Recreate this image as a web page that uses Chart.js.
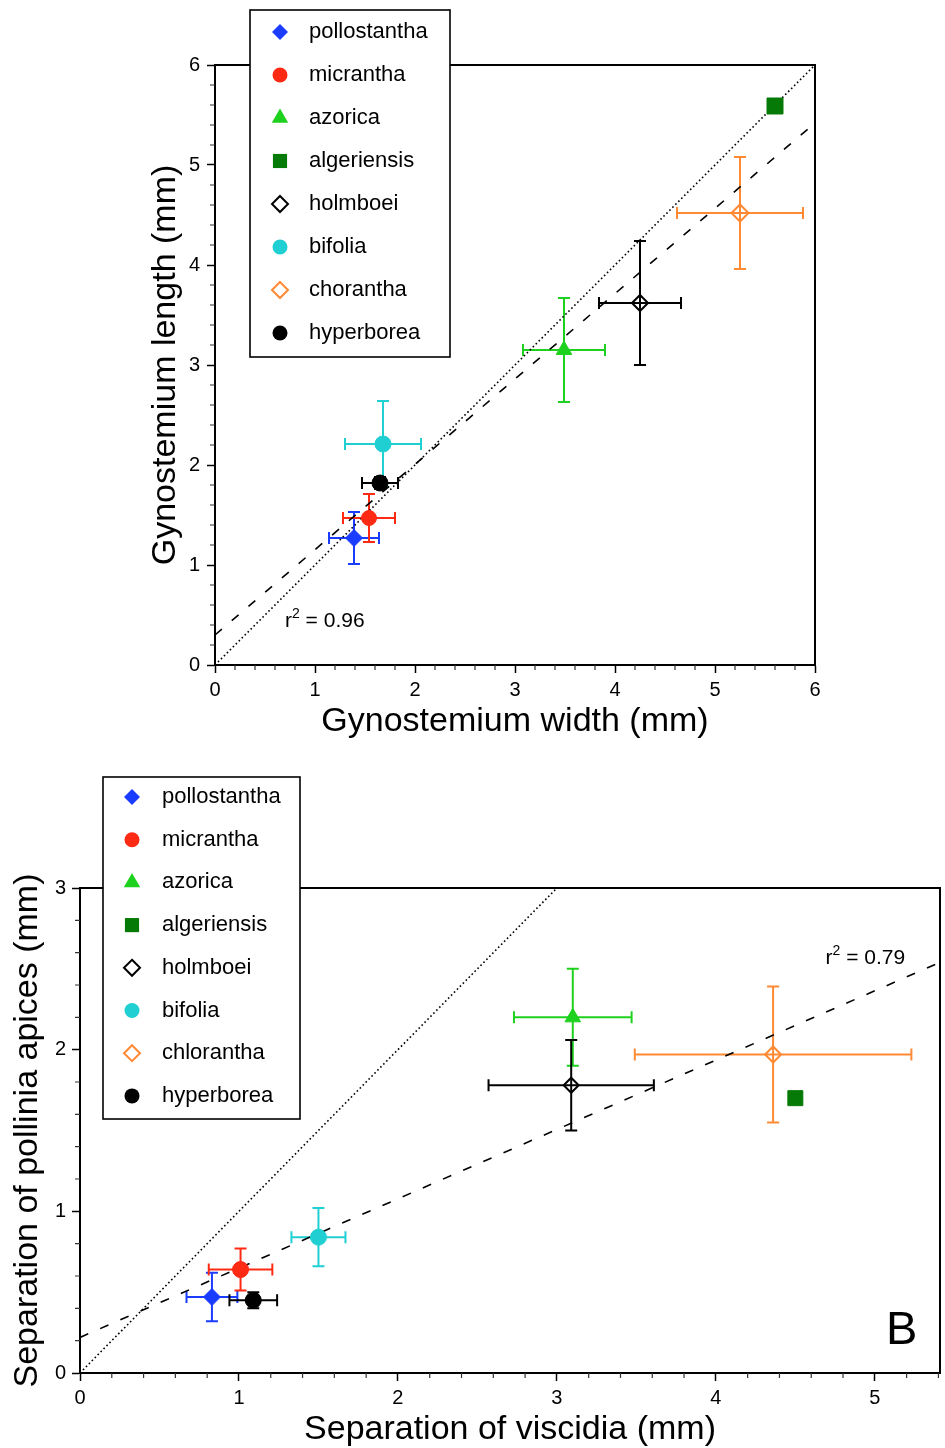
<!DOCTYPE html>
<html>
<head>
<meta charset="UTF-8">
<title>Gynostemium and pollinia measurements</title>
<script src="https://cdn.jsdelivr.net/npm/chart.js"></script>
<style>
  body { margin: 0; background: #fff; }
  #wrap { position: relative; width: 945px; height: 1448px; }
  #topBox { position: absolute; left: 0; top: 0; }
  #botBox { position: absolute; left: 0; top: 745px; }
</style>
</head>
<body>
<div id="wrap">
  <div id="topBox"><canvas id="chartA" width="945" height="745"></canvas></div>
  <div id="botBox"><canvas id="chartB" width="945" height="703"></canvas></div>
</div>
<script>
// species names (legend order)
const speciesA = ['pollostantha', 'micrantha', 'azorica', 'algeriensis', 'holmboei', 'bifolia', 'chorantha', 'hyperborea'];
const speciesB = ['pollostantha', 'micrantha', 'azorica', 'algeriensis', 'holmboei', 'bifolia', 'chlorantha', 'hyperborea'];

// panel A : gynostemium width / length (mm), +- error
const widthA     = [1.39, 1.54, 3.49, 5.60, 4.25, 1.68, 5.25, 1.65];
const lengthA    = [1.27, 1.47, 3.15, 5.59, 3.62, 2.21, 4.52, 1.82];
const widthErrA  = [0.25, 0.26, 0.41, 0,    0.41, 0.38, 0.63, 0.18];
const lengthErrA = [0.26, 0.24, 0.52, 0,    0.62, 0.43, 0.56, 0.06];
const oneToOneA  = { x: [0, 6], y: [0, 6] };
const fitA       = { x: [0, 6], y: [0.30, 5.42] };
const ticksA     = [0, 1, 2, 3, 4, 5, 6];

// panel B : separation of viscidia / pollinia apices (mm), +- error
const viscB      = [0.83, 1.01, 3.10, 4.50, 3.09, 1.50, 4.36, 1.09];
const apicesB    = [0.47, 0.64, 2.20, 1.70, 1.78, 0.84, 1.97, 0.45];
const viscErrB   = [0.16, 0.20, 0.37, 0,    0.52, 0.17, 0.87, 0.15];
const apicesErrB = [0.15, 0.13, 0.30, 0,    0.28, 0.18, 0.42, 0.05];
const oneToOneB  = { x: [0, 3.2], y: [0, 3.2] };
const fitB       = { x: [0, 5.41], y: [0.22, 2.54] };
const ticksBx    = [0, 1, 2, 3, 4, 5];
const ticksBy    = [0, 1, 2, 3];

// marker styles
const colors      = ['#1a3cff', '#ff2a14', '#1fd11f', '#067a06', '#000000', '#1fcfd2', '#ff8a33', '#000000'];
const pointStyles = ['rectRot', 'circle', 'triangle', 'rect', 'rectRot', 'circle', 'rectRot', 'circle'];
const hollow      = [false, false, false, false, true, false, true, false];
const radiiA      = [8.5, 7.5, 9, 11.3, 8, 8, 8.5, 8];
const radiiB      = [8.5, 8, 9, 10.6, 7.5, 8, 8, 8];

const FONT = "'Liberation Sans', Arial, Helvetica, sans-serif";
Chart.defaults.font.family = FONT;
Chart.defaults.color = '#000';

function lineSet(src, dash) {
    return {
        type: 'line',
        data: src.x.map((x, i) => ({ x: x, y: src.y[i] })),
        borderColor: '#000',
        borderWidth: 1.6,
        borderDash: dash,
        pointRadius: 0,
        fill: false,
        order: 20
    };
}

function buildDatasets(xs, ys, xe, ye, radii, oneToOne, fit) {
    const sets = xs.map((x, i) => ({
        type: 'scatter',
        data: [{ x: x, y: ys[i] }],
        errX: xe[i],
        errY: ye[i],
        barColor: colors[i],
        pointStyle: pointStyles[i],
        pointRadius: radii[i],
        pointHoverRadius: radii[i],
        pointBackgroundColor: hollow[i] ? 'rgba(0,0,0,0)' : colors[i],
        pointBorderColor: colors[i],
        pointBorderWidth: hollow[i] ? 2 : 1,
        order: i
    }));
    sets.push(lineSet(oneToOne, [1.6, 2.6]));
    sets.push(lineSet(fit, [9, 13]));
    return sets;
}

// legend marker, same shapes as chart.js points
function drawMarker(ctx, style, x, y, r, color, open) {
    ctx.beginPath();
    if (style === 'circle') {
        ctx.arc(x, y, r, 0, Math.PI * 2);
    } else if (style === 'rectRot') {
        ctx.moveTo(x, y - r); ctx.lineTo(x + r, y); ctx.lineTo(x, y + r); ctx.lineTo(x - r, y);
        ctx.closePath();
    } else if (style === 'triangle') {
        ctx.moveTo(x, y - r);
        ctx.lineTo(x + r * Math.sin(2 * Math.PI / 3), y - r * Math.cos(2 * Math.PI / 3));
        ctx.lineTo(x + r * Math.sin(4 * Math.PI / 3), y - r * Math.cos(4 * Math.PI / 3));
        ctx.closePath();
    } else {
        const s = r * Math.SQRT1_2;
        ctx.rect(x - s, y - s, 2 * s, 2 * s);
    }
    if (open) {
        ctx.strokeStyle = color; ctx.lineWidth = 2; ctx.stroke();
    } else {
        ctx.fillStyle = color; ctx.fill();
    }
}

function makeDecor(cfg) {
    return {
        id: 'decor',
        beforeDatasetsDraw(chart) {
            const ctx = chart.ctx, sx = chart.scales.x, sy = chart.scales.y, a = chart.chartArea;
            const cap = 6;
            ctx.save();
            ctx.beginPath(); ctx.rect(a.left, a.top, a.right - a.left, a.bottom - a.top); ctx.clip();
            ctx.lineWidth = 2;
            chart.data.datasets.forEach(ds => {
                if (ds.errX === undefined) return;
                const p = ds.data[0];
                const cx = sx.getPixelForValue(p.x), cy = sy.getPixelForValue(p.y);
                ctx.strokeStyle = ds.barColor;
                ctx.beginPath();
                if (ds.errX > 0) {
                    const l = sx.getPixelForValue(p.x - ds.errX), r = sx.getPixelForValue(p.x + ds.errX);
                    ctx.moveTo(l, cy); ctx.lineTo(r, cy);
                    ctx.moveTo(l, cy - cap); ctx.lineTo(l, cy + cap);
                    ctx.moveTo(r, cy - cap); ctx.lineTo(r, cy + cap);
                }
                if (ds.errY > 0) {
                    const t = sy.getPixelForValue(p.y + ds.errY), b = sy.getPixelForValue(p.y - ds.errY);
                    ctx.moveTo(cx, t); ctx.lineTo(cx, b);
                    ctx.moveTo(cx - cap, t); ctx.lineTo(cx + cap, t);
                    ctx.moveTo(cx - cap, b); ctx.lineTo(cx + cap, b);
                }
                ctx.stroke();
            });
            ctx.restore();
        },
        afterDatasetsDraw(chart) {
            const ctx = chart.ctx, sx = chart.scales.x, sy = chart.scales.y, a = chart.chartArea;
            ctx.save();
            // frame
            ctx.strokeStyle = '#000'; ctx.lineWidth = 2;
            ctx.strokeRect(a.left, a.top, a.right - a.left, a.bottom - a.top);
            // minor ticks every 0.2
            ctx.lineWidth = 1.2; ctx.strokeStyle = '#333';
            ctx.beginPath();
            for (let k = 1; k * 0.2 < sx.max; k++) {
                if (k % 5 === 0) continue;
                const px = sx.getPixelForValue(k * 0.2);
                ctx.moveTo(px, a.bottom); ctx.lineTo(px, a.bottom + 5);
            }
            for (let k = 1; k * 0.2 < sy.max; k++) {
                if (k % 5 === 0) continue;
                const py = sy.getPixelForValue(k * 0.2);
                ctx.moveTo(a.left, py); ctx.lineTo(a.left - 5, py);
            }
            ctx.stroke();
            // r^2 label
            const rx = sx.getPixelForValue(cfg.r2.x), ry = sy.getPixelForValue(cfg.r2.y);
            ctx.fillStyle = '#000'; ctx.textBaseline = 'alphabetic'; ctx.textAlign = 'left';
            ctx.font = '21px ' + FONT;
            ctx.fillText('r', rx, ry);
            const w1 = ctx.measureText('r').width;
            ctx.font = '14px ' + FONT;
            ctx.fillText('2', rx + w1, ry - 9);
            const w2 = ctx.measureText('2').width;
            ctx.font = '21px ' + FONT;
            ctx.fillText(' = ' + cfg.r2.text, rx + w1 + w2, ry);
            // panel letter
            if (cfg.letter) {
                ctx.font = '47px ' + FONT;
                ctx.fillText(cfg.letter, a.right - 54, a.bottom - 29);
            }
            ctx.restore();
        },
        afterDraw(chart) {
            const ctx = chart.ctx, L = cfg.legend;
            ctx.save();
            ctx.fillStyle = '#fff';
            ctx.fillRect(L.x, L.y, L.w, L.h);
            ctx.strokeStyle = '#000'; ctx.lineWidth = 1.6;
            ctx.strokeRect(L.x, L.y, L.w, L.h);
            const legR = [8, 7.5, 9.5, 10, 8, 7.5, 8, 7.5];
            cfg.labels.forEach((name, i) => {
                const y = L.row0 + i * L.step;
                drawMarker(ctx, pointStyles[i], L.symX, y, legR[i], colors[i], hollow[i]);
                ctx.fillStyle = '#000';
                ctx.font = '22px ' + FONT;
                ctx.textBaseline = 'middle'; ctx.textAlign = 'left';
                ctx.fillText(name, L.textX, y);
            });
            ctx.restore();
        }
    };
}

function axis(opts) {
    return {
        type: 'linear',
        min: opts.min,
        max: opts.max,
        afterFit: opts.fit,
        afterBuildTicks: s => { s.ticks = opts.ticks.map(v => ({ value: v })); },
        ticks: { font: { size: 20 }, color: '#000', padding: opts.pad, callback: v => String(v) },
        grid: { drawOnChartArea: false, tickLength: 8, tickWidth: 1.5, tickColor: '#000' },
        border: { display: true, color: '#000', width: 2 },
        title: {
            display: true, text: opts.title, color: '#000',
            font: { size: 34, lineHeight: 1 },
            padding: opts.titlePad
        }
    };
}

new Chart(document.getElementById('chartA'), {
    type: 'scatter',
    data: { datasets: buildDatasets(widthA, lengthA, widthErrA, lengthErrA, radiiA, oneToOneA, fitA) },
    options: {
        responsive: false,
        animation: false,
        devicePixelRatio: 1,
        layout: { autoPadding: false, padding: { left: 0, top: 65, right: 130, bottom: 0 } },
        plugins: { legend: { display: false }, tooltip: { enabled: false } },
        scales: {
            x: axis({ min: 0, max: 6, ticks: ticksA, pad: 5, title: 'Gynostemium width (mm)',
                      titlePad: { top: 0, bottom: 6 },
                      fit: s => { s.height = 80; s.paddingLeft = 0; s.paddingRight = 0; } }),
            y: axis({ min: 0, max: 6, ticks: ticksA, pad: 7, title: 'Gynostemium length (mm)',
                      titlePad: { top: 149, bottom: 0 }, fit: s => { s.width = 215; } })
        }
    },
    plugins: [makeDecor({
        r2: { x: 0.70, y: 0.38, text: '0.96' },
        legend: { x: 250, y: 10, w: 200, h: 347, symX: 280, textX: 309, row0: 32, step: 43 },
        labels: speciesA
    })]
});

new Chart(document.getElementById('chartB'), {
    type: 'scatter',
    data: { datasets: buildDatasets(viscB, apicesB, viscErrB, apicesErrB, radiiB, oneToOneB, fitB) },
    options: {
        responsive: false,
        animation: false,
        devicePixelRatio: 1,
        layout: { autoPadding: false, padding: { left: 0, top: 143, right: 5, bottom: 0 } },
        plugins: { legend: { display: false }, tooltip: { enabled: false } },
        scales: {
            x: axis({ min: 0, max: 5.41, ticks: ticksBx, pad: 5, title: 'Separation of viscidia (mm)',
                      titlePad: { top: 0, bottom: 1 },
                      fit: s => { s.height = 75; s.paddingLeft = 0; s.paddingRight = 0; } }),
            y: axis({ min: 0, max: 3, ticks: ticksBy, pad: 6, title: 'Separation of pollinia apices (mm)',
                      titlePad: { top: 11, bottom: 0 }, fit: s => { s.width = 80; } })
        }
    },
    plugins: [makeDecor({
        r2: { x: 4.69, y: 2.53, text: '0.79' },
        letter: 'B',
        legend: { x: 103, y: 32, w: 197, h: 342, symX: 132, textX: 162, row0: 52, step: 42.7 },
        labels: speciesB
    })]
});
</script>
</body>
</html>
